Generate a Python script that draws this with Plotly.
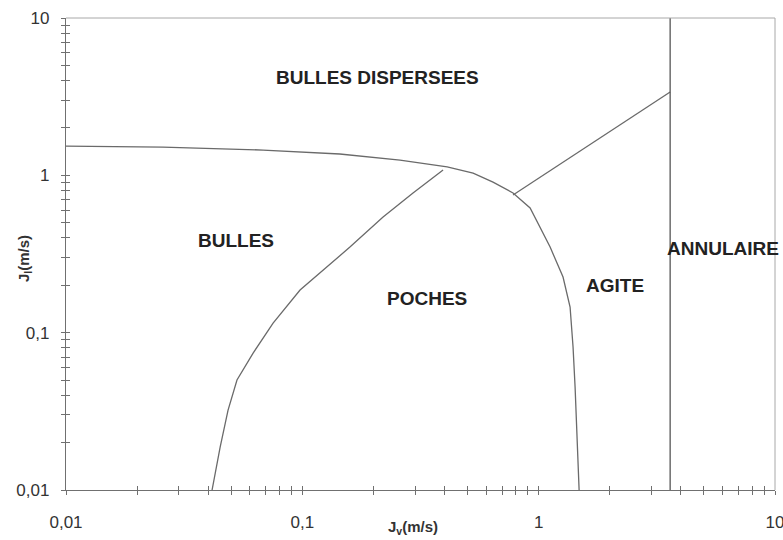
import math

import plotly.graph_objects as go

# ---------------------------------------------------------------------------
# Data (log-log, m/s)
# ---------------------------------------------------------------------------

# upper boundary: bulles dispersees / (bulles, poches, agite)
upper_jv = [0.01, 0.0257, 0.0682, 0.144, 0.259, 0.41, 0.528, 0.641, 0.779,
            0.92, 1.118, 1.268, 1.358, 1.398, 1.426, 1.454, 1.483]
upper_jl = [1.535, 1.513, 1.448, 1.366, 1.251, 1.13, 1.034, 0.906, 0.772,
            0.62, 0.35, 0.2257, 0.1455, 0.081, 0.0451, 0.0187, 0.01]

# bulles / poches boundary
bp_jv = [0.0415, 0.0449, 0.0485, 0.0529, 0.0619, 0.0752, 0.0978, 0.1272,
         0.159, 0.2196, 0.294, 0.394]
bp_jl = [0.01, 0.0187, 0.0322, 0.05, 0.0742, 0.115, 0.1866, 0.2612,
         0.35, 0.543, 0.772, 1.081]

# agite / bulles dispersees boundary
ab_jv = [0.779, 3.6]
ab_jl = [0.75, 3.385]

# annulaire boundary (vertical)
ann_jv = [3.6, 3.6]
ann_jl = [0.01, 10]

region_labels = ["BULLES DISPERSEES", "BULLES", "POCHES", "AGITE", "ANNULAIRE"]
region_jv = [0.207, 0.0524, 0.337, 2.105, 6.03]
region_jl = [4.16, 0.388, 0.166, 0.2, 0.345]

tick_vals = [0.01, 0.1, 1, 10]
tick_text = ["0,01", "0,1", "1", "10"]

LINE_COLOR = "#6a6a6a"
AXIS_COLOR = "#707070"
FONT = "Liberation Sans, Arial, sans-serif"

fig = go.Figure()

for xs, ys, col in [
    (upper_jv, upper_jl, LINE_COLOR),
    (bp_jv, bp_jl, LINE_COLOR),
    (ab_jv, ab_jl, LINE_COLOR),
    (ann_jv, ann_jl, "#555555"),
]:
    fig.add_trace(go.Scatter(
        x=xs, y=ys, mode="lines",
        line=dict(color=col, width=1.3),
        showlegend=False, hoverinfo="skip",
    ))

# annotations on log axes take log10 positions
for txt, xv, yv in zip(region_labels, region_jv, region_jl):
    fig.add_annotation(
        x=math.log10(xv), y=math.log10(yv), xref="x", yref="y", text=f"<b>{txt}</b>",
        showarrow=False, font=dict(family=FONT, size=19, color="#222222"),
    )

# axis titles
fig.add_annotation(
    x=0.49, y=-0.08, xref="paper", yref="paper", yanchor="middle",
    text="<b>J<sub>v</sub>(m/s)</b>", showarrow=False,
    font=dict(family=FONT, size=15, color="#333333"),
)
fig.add_annotation(
    x=-0.075, y=0.49, xref="paper", yref="paper", textangle=-90,
    text="<b>J<sub>l</sub>(m/s)</b>", showarrow=False,
    font=dict(family=FONT, size=15, color="#333333"),
)

# light frame on top and right
fig.add_shape(type="line", xref="paper", yref="paper", x0=0, x1=1, y0=1, y1=1,
              line=dict(color="#a8a8a8", width=1))
fig.add_shape(type="line", xref="paper", yref="paper", x0=1, x1=1, y0=0, y1=1,
              line=dict(color="#a8a8a8", width=1))

axis_common = dict(
    type="log", range=[-2, 1], showgrid=False, zeroline=False, automargin=False,
    tickvals=tick_vals, ticktext=tick_text, ticklabeloverflow="allow",
    tickcolor=AXIS_COLOR, ticklen=4, tickwidth=1,
    minor=dict(ticks="outside", ticklen=4, tickcolor=AXIS_COLOR, dtick="D1", showgrid=False),
)

fig.update_layout(
    width=783, height=540,
    margin=dict(l=66, r=8, t=18, b=50),
    paper_bgcolor="white", plot_bgcolor="white",
    font=dict(family=FONT, size=17, color="#333333"),
    showlegend=False,
    xaxis=dict(
        **axis_common, ticks="outside", showline=True, linecolor=AXIS_COLOR,
        linewidth=1.3, ticklabelstandoff=12,
    ),
    yaxis=dict(
        **axis_common, ticks="outside", showline=True, linecolor=AXIS_COLOR,
        linewidth=1.3, ticklabelstandoff=8,
    ),
    # overlay axes give the crossing (inside) half of each tick
    xaxis2=dict(
        type="log", range=[-2, 1], overlaying="x", anchor="y2", side="bottom",
        showgrid=False, zeroline=False, showline=False, showticklabels=False,
        automargin=False,
        tickvals=tick_vals, ticks="inside", ticklen=4, tickcolor=AXIS_COLOR,
        minor=dict(ticks="inside", ticklen=4, tickcolor=AXIS_COLOR, dtick="D1", showgrid=False),
    ),
    yaxis2=dict(
        type="log", range=[-2, 1], overlaying="y", anchor="x2", side="left",
        showgrid=False, zeroline=False, showline=False, showticklabels=False,
        automargin=False,
        tickvals=tick_vals, ticks="inside", ticklen=4, tickcolor=AXIS_COLOR,
        minor=dict(ticks="inside", ticklen=4, tickcolor=AXIS_COLOR, dtick="D1", showgrid=False),
    ),
)

# invisible point so the overlay axes get drawn
fig.add_trace(go.Scatter(x=[1], y=[1], xaxis="x2", yaxis="y2", mode="markers",
                         marker=dict(opacity=0), showlegend=False, hoverinfo="skip"))

# page body has an 8px default margin; drop it so the figure fills the window
fig.write_html(
    "out.html",
    config={"displayModeBar": False},
    post_script="document.body.style.margin='0';",
)
